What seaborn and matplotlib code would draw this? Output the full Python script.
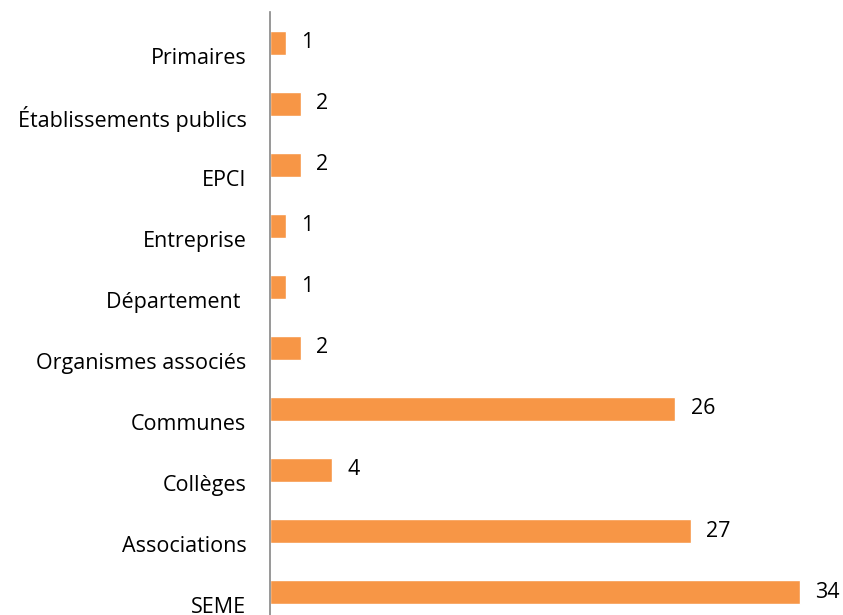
import matplotlib
matplotlib.use("Agg")
import matplotlib.pyplot as plt
import seaborn as sns
import numpy as np
import pandas as pd

categories = ["Primaires", "Établissements publics", "EPCI", "Entreprise", "Département ",
              "Organismes associés", "Communes", "Collèges", "Associations", "SEME"]
values = [1, 2, 2, 1, 1, 2, 26, 4, 27, 34]

sns.set_theme(style="white")
plt.rcParams['font.family'] = ['Open Sans', 'DejaVu Sans']

df = pd.DataFrame({"cat": categories, "val": values})

fig = plt.figure(figsize=(8.43, 6.15), dpi=100)
ax = fig.add_axes([270/843, 0.0, 1 - 270/843, (615 - 12) / 615])

sns.barplot(data=df, x="val", y="cat", order=categories, color="#F79646",
            width=0.4, saturation=1, ax=ax, orient="h")

for c in ax.containers:
    ax.bar_label(c, labels=[str(v) for v in values], padding=11, fontsize=15.5, color="#000000")

ax.set_xlim(0, 573 / (530 / 34))
ax.set_ylim(9.377, -0.508)
ax.set_yticks(np.arange(len(categories)) + 0.21, labels=categories)
ax.tick_params(axis="y", length=0, pad=17, labelsize=15.5, labelcolor="#000000")
ax.set_xticks([])
ax.set_xlabel("")
ax.set_ylabel("")
for s in ["top", "right", "bottom"]:
    ax.spines[s].set_visible(False)
ax.spines["left"].set_color("#868686")
ax.spines["left"].set_linewidth(1.2)

fig.savefig("out.png", dpi=100)
